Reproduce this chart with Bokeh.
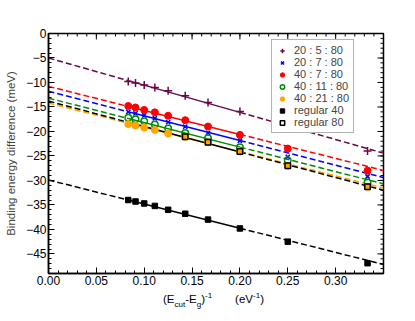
import numpy as np
from bokeh.plotting import figure
from bokeh.layouts import column
from bokeh.models import (FixedTicker, LinearAxis, Range1d, Legend, LegendItem,
                          PrintfTickFormatter, Div)
from bokeh.embed import file_html
from bokeh.resources import INLINE

# ---------------- data ----------------
x_inv = [1/12, 1/11, 1/10, 1/9, 1/8, 1/7, 1/6, 1/5, 1/4, 1/3]
x_inv_reg80 = [1/7, 1/6, 1/5, 1/4, 1/3]

y_20_5_80 = [-9.8, -10.1, -10.5, -11.0, -11.7, -12.7, -14.1, -15.9, -19.3, -24.0]
y_20_7_80 = [-16.0, -16.3, -16.7, -17.3, -18.1, -19.0, -20.3, -21.9, -25.2, -29.2]
y_40_7_80 = [-14.8, -15.1, -15.6, -16.1, -16.8, -17.7, -19.0, -20.7, -23.5, -28.0]
y_40_11_80 = [-17.2, -17.5, -17.9, -18.6, -19.4, -20.3, -21.4, -23.2, -25.9, -30.4]
y_40_21_80 = [-18.5, -18.8, -19.2, -19.7, -20.4, -21.1, -22.2, -24.1, -27.0, -31.3]
y_reg40 = [-34.0, -34.3, -34.7, -35.2, -36.0, -36.8, -38.0, -39.8, -42.5, -46.9]
y_reg80 = [-21.1, -22.2, -24.1, -27.0, -31.3]

# linear fits (intercept, slope)
fit_20_5_80 = (-5.0, -55.5)
fit_20_7_80 = (-11.8, -50.3)
fit_40_7_80 = (-10.8, -49.0)
fit_40_11_80 = (-13.2, -50.0)
fit_40_21_80 = (-14.2, -49.6)
fit_reg40 = (-29.9, -49.3)
fit_reg80 = (-13.8, -52.0)

fit_dash_left = [0.0, 1/12]
fit_solid = [1/12, 1/5]
fit_dash_right = [1/5, 0.35]

labels = ["20 : 5 : 80", "20 : 7 : 80", "40 : 7 : 80", "40 : 11 : 80",
          "40 : 21 : 80", "regular 40", "regular 80"]

x_major = [0.0, 0.05, 0.10, 0.15, 0.20, 0.25, 0.30]
x_minor = [round(0.01 * i, 2) for i in range(0, 36)]
y_major = [0, -5, -10, -15, -20, -25, -30, -35, -40, -45]
y_minor = list(range(-49, 1))

# ---------------- styling ----------------
FONT = "Liberation Sans"
MAROON = "#670748"
BLUE = "#0000ff"
RED = "#ff0000"
GREEN = "#008b00"
ORANGE = "#ffa500"
BLACK = "#000000"

series = [
    (labels[0], x_inv, y_20_5_80, fit_20_5_80, MAROON, "cross", MAROON, 8),
    (labels[1], x_inv, y_20_7_80, fit_20_7_80, BLUE, "x", BLUE, 6),
    (labels[2], x_inv, y_40_7_80, fit_40_7_80, RED, "circle", RED, 7),
    (labels[3], x_inv, y_40_11_80, fit_40_11_80, GREEN, "circle", None, 6.5),
    (labels[4], x_inv, y_40_21_80, fit_40_21_80, ORANGE, "circle", ORANGE, 7),
    (labels[5], x_inv, y_reg40, fit_reg40, BLACK, "square", BLACK, 5.5),
    (labels[6], x_inv_reg80, y_reg80, fit_reg80, BLACK, "square", None, 5.5),
]

X0, X1, Y0, Y1 = 0.0, 0.35, -49.0, 0.0

p = figure(frame_width=335, frame_height=240, output_backend="svg", toolbar_location=None,
           x_range=Range1d(X0, X1), y_range=Range1d(Y0, Y1),
           min_border_left=48, min_border_right=24, min_border_top=33,
           min_border_bottom=18, x_axis_location=None, y_axis_location=None)
p.grid.visible = False
p.outline_line_color = BLACK
p.outline_line_width = 1.5
p.background_fill_color = "white"
p.border_fill_color = "white"


def style_axis(ax):
    ax.axis_line_color = BLACK
    ax.axis_line_width = 1.5
    ax.major_tick_in = 6
    ax.major_tick_out = 0
    ax.minor_tick_in = 3
    ax.minor_tick_out = 0
    ax.major_tick_line_color = BLACK
    ax.minor_tick_line_color = BLACK
    ax.major_tick_line_width = 1
    ax.minor_tick_line_width = 1
    ax.major_label_text_font = FONT
    ax.major_label_text_font_size = "12px"
    ax.major_label_text_color = BLACK


xt = FixedTicker(ticks=x_major, minor_ticks=x_minor)
yt = FixedTicker(ticks=y_major, minor_ticks=y_minor)

xb = LinearAxis(ticker=xt, formatter=PrintfTickFormatter(format="%.2f"))
style_axis(xb)
xb.major_label_standoff = 2
p.add_layout(xb, "below")

yl = LinearAxis(ticker=yt, axis_label="Binding energy difference (meV)")
style_axis(yl)
yl.major_label_standoff = 2
yl.axis_label_text_font = FONT
yl.axis_label_text_font_style = "normal"
yl.axis_label_text_font_size = "11.5px"
yl.axis_label_standoff = 6
p.add_layout(yl, "left")

# ticks on the top and right frame edges (inward), from the same tick lists
p.scatter([X1] * len(y_minor), y_minor, marker="dash", size=6, line_color=BLACK, line_width=1)
p.scatter([X1] * len(y_major), y_major, marker="dash", size=12, line_color=BLACK, line_width=1)
p.scatter(x_minor, [Y1] * len(x_minor), marker="dash", size=6, angle=np.pi / 2,
          line_color=BLACK, line_width=1)
p.scatter(x_major, [Y1] * len(x_major), marker="dash", size=12, angle=np.pi / 2,
          line_color=BLACK, line_width=1)

# fit lines
for name, xs, ys, (b, m), col, mk, fill, sz in series:
    for seg, dash in ((fit_dash_left, "6 3"), (fit_solid, "solid"), (fit_dash_right, "6 3")):
        sx = np.array(seg)
        p.line(sx, b + m * sx, line_color=col, line_width=1.5, line_dash=dash)

# markers
items = []
for name, xs, ys, (b, m), col, mk, fill, sz in series:
    r = p.scatter(xs, ys, marker=mk, size=sz, line_color=col, fill_color=fill,
                  line_width=1.5 if mk in ("cross", "x") or fill is None else 1)
    items.append(LegendItem(label=name, renderers=[r]))

legend = Legend(items=items, location=(223, 140))
legend.label_text_font = FONT
legend.label_text_font_size = "11px"
legend.label_height = 11
legend.glyph_height = 11
legend.glyph_width = 12
legend.spacing = 0
legend.padding = 4
legend.margin = 0
legend.label_standoff = 6
legend.border_line_color = "#666666"
legend.border_line_width = 1.5
legend.background_fill_color = "white"
legend.background_fill_alpha = 1
p.add_layout(legend)

# x axis label: (E_cut-E_g)^-1   (eV^-1)
sub = "font-size:8px;position:relative;top:3.5px;"
sup = "font-size:8px;position:relative;top:-5px;"
xlabel_html = (
    f"<div style=\"font-family:'Liberation Sans';font-size:11.5px;color:#000;"
    f"line-height:14px;white-space:nowrap;padding-left:163px;\">"
    f"(E<span style='{sub}'>cut</span>-E<span style='{sub}'>g</span>)"
    f"<span style='{sup}'>-1</span>"
    f"<span style='display:inline-block;width:23px'></span>"
    f"(eV<span style='{sup}'>-1</span>)</div>"
)
xlabel = Div(text=xlabel_html, width=407, height=22, margin=(0, 0, 0, 0))

layout = column(p, xlabel, spacing=0)
open("out.html", "w").write(file_html(layout, INLINE))
